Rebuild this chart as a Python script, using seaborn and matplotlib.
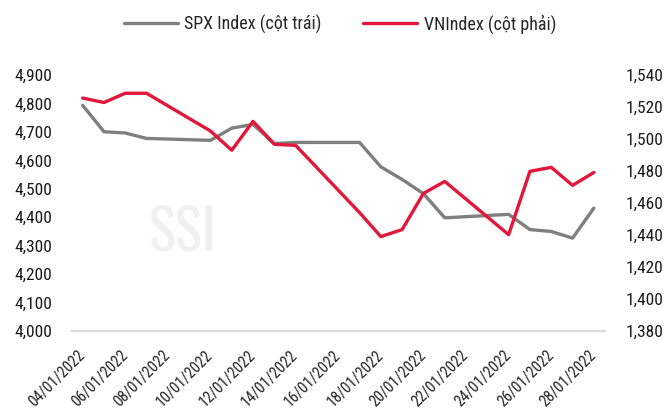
import pandas as pd
import matplotlib.pyplot as plt
import matplotlib.dates as mdates
import numpy as np
import seaborn as sns

# du lieu doc tu bieu do (thang 1/2022)
days = ['04', '05', '06', '07', '10', '11', '12', '13', '14', '17',
        '18', '19', '20', '21', '24', '25', '26', '27', '28']
spx = [4793.5, 4700.6, 4696.1, 4677.0, 4670.3, 4713.1, 4726.4, 4659.0, 4662.9, 4662.9,
       4577.1, 4532.8, 4482.7, 4397.9, 4410.1, 4356.5, 4349.9, 4326.5, 4431.9]
vnindex = [1525.6, 1522.8, 1528.6, 1528.6, 1505.0, 1493.0, 1511.0, 1496.7, 1496.0, 1454.0,
           1439.0, 1443.4, 1466.0, 1473.5, 1440.2, 1479.8, 1482.3, 1471.0, 1479.1]
label_spx = 'SPX Index (cột trái)'
label_vn = 'VNIndex (cột phải)'

df = pd.DataFrame({'date': pd.to_datetime([d + '/01/2022' for d in days], format='%d/%m/%Y'),
                   'spx': spx, 'vn': vnindex})

sns.set_style('white')
plt.rcParams['font.family'] = ['Roboto Condensed', 'Liberation Sans', 'DejaVu Sans']
plt.rcParams['font.size'] = 12.5

grey = '#7f7f7f'
red = '#e2183a'

fig = plt.figure(figsize=(6.68, 4.17), dpi=100)
ax = fig.add_axes([72/668, 1 - 331/417, (604.5 - 72)/668, (331 - 75)/417])
ax2 = ax.twinx()

sns.lineplot(x='date', y='spx', data=df, ax=ax, color=grey, lw=2.4, label=label_spx, legend=False)
sns.lineplot(x='date', y='vn', data=df, ax=ax2, color=red, lw=2.4, label=label_vn, legend=False)

ax.set_ylim(4000, 4900)
ax.set_yticks(np.arange(4000, 4901, 100))
ax2.set_ylim(1380, 1540)
ax2.set_yticks(np.arange(1380, 1541, 20))
ax.yaxis.set_major_formatter(plt.FuncFormatter(lambda v, p: f'{v:,.0f}'))
ax2.yaxis.set_major_formatter(plt.FuncFormatter(lambda v, p: f'{v:,.0f}'))

start = pd.Timestamp('2022-01-04')
end = pd.Timestamp('2022-01-28')
half = pd.Timedelta(hours=12)
ax.set_xlim(start - half, end + half)
ax.set_xticks(pd.date_range(start, end, freq='2D'))
ax.set_xticks(pd.date_range(start - half, end, freq='2D'), minor=True)
ax.xaxis.set_major_formatter(mdates.DateFormatter('%d/%m/%Y'))
for t in ax.get_xticklabels():
    t.set_rotation(45)
    t.set_ha('right')
    t.set_va('center')
    t.set_rotation_mode('anchor')
    t.set_fontsize(11.2)
ax.tick_params(axis='x', which='major', length=0, pad=16)
ax.tick_params(axis='x', which='minor', length=4, width=1, color='#d9d9d9', direction='out')
ax.tick_params(axis='y', length=0, pad=14, labelcolor='#1a1a1a')
ax2.tick_params(axis='y', length=0, pad=15, labelcolor='#1a1a1a')
ax.set_xlabel('')
ax.set_ylabel('')
ax2.set_ylabel('')

for a in (ax, ax2):
    for s in ['top', 'left', 'right', 'bottom']:
        a.spines[s].set_visible(False)
ax.spines['bottom'].set_visible(True)
ax.spines['bottom'].set_color('#d9d9d9')
ax.spines['bottom'].set_linewidth(1.5)

# watermark
ax.text(0.2085, 0.385, 'SSI', transform=ax.transAxes, ha='center', va='center',
        fontsize=41, fontweight='bold', color='#f0f0f0', zorder=0,
        family=['Oswald', 'Roboto Condensed', 'DejaVu Sans'])

h1, l1 = ax.get_legend_handles_labels()
h2, l2 = ax2.get_legend_handles_labels()
fig.legend(h1 + h2, l1 + l2, loc='center', bbox_to_anchor=(340/668, 1 - 24/417), ncol=2,
           frameon=False, fontsize=13, handlelength=3.0, handletextpad=0.35, columnspacing=2.3)

fig.savefig('out.png', dpi=100)
